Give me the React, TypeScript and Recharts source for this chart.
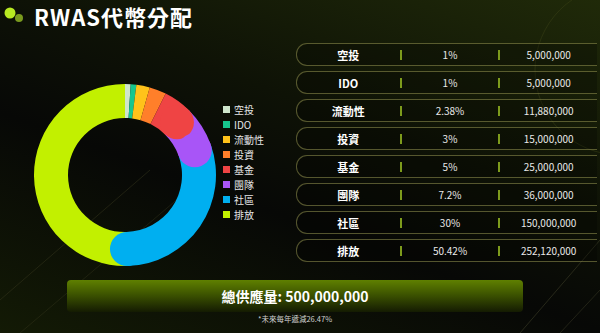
import React from 'react';
import { PieChart, Pie, Cell, Legend } from 'recharts';

const categories = ['空投', 'IDO', '流動性', '投資', '基金', '團隊', '社區', '排放'];
const percents = [1, 1, 2.38, 3, 5, 7.2, 30, 50.42];
const amounts = [5000000, 5000000, 11880000, 15000000, 25000000, 36000000, 150000000, 252120000];
const colors = ['#cfe6cc', '#17c68e', '#ffc21a', '#ff7f2a', '#ef4444', '#a855f7', '#00aff0', '#c2f000'];
const totalSupply = 500000000;
const title = 'RWAS代幣分配';
const totalLabel = '總供應量';
const footnote = '*未來每年遞減26.47%';

const data = categories.map((name, i) => ({ name, value: percents[i] }));

const FONT = '"Noto Sans CJK TC", "Noto Sans", sans-serif';
const fmt = (n: number) => n.toLocaleString('en-US');

const renderCap = (props: any) => {
  const { cx, cy, innerRadius, outerRadius, startAngle, endAngle, index } = props;
  if (index === categories.length - 1) return null;
  const t = outerRadius - innerRadius;
  const mid = (innerRadius + outerRadius) / 2;
  const arc = (Math.abs(endAngle - startAngle) * Math.PI * mid) / 180;
  if (arc < t / 2) return null;
  const rad = (endAngle * Math.PI) / 180;
  return (
    <circle
      cx={cx + mid * Math.cos(rad)}
      cy={cy - mid * Math.sin(rad)}
      r={t / 2}
      fill={colors[index]}
    />
  );
};

const LegendContent = (props: any) => {
  const payload = [...(props.payload || [])].sort(
    (a: any, b: any) => categories.indexOf(a.value) - categories.indexOf(b.value)
  );
  return (
    <div style={{ fontFamily: FONT }}>
      {payload.map((p: any, i: number) => (
        <div key={i} style={{ display: 'flex', alignItems: 'center', height: 15 }}>
          <span style={{ width: 7, height: 7, background: p.color, display: 'inline-block', marginRight: 4 }} />
          <span style={{ color: '#e6e6e6', fontSize: 10 }}>{p.value}</span>
        </div>
      ))}
    </div>
  );
};

export default function App() {
  return (
    <div
      style={{
        position: 'absolute',
        left: 0,
        top: 0,
        width: 600,
        height: 333,
        overflow: 'hidden',
        fontFamily: FONT,
        background:
          'linear-gradient(200deg, #202a09 0%, #0e1206 38%, #070806 60%, #131a05 100%)',
      }}
    >
      <svg width={600} height={333} style={{ position: 'absolute', left: 0, top: 0 }}>
        <line x1={0} y1={300} x2={150} y2={170} stroke="#3a3a20" strokeWidth={0.8} opacity={0.6} />
        <line x1={20} y1={333} x2={200} y2={180} stroke="#3a3a20" strokeWidth={0.8} opacity={0.5} />
        <line x1={520} y1={333} x2={600} y2={240} stroke="#4a4a30" strokeWidth={0.8} opacity={0.6} />
        <line x1={560} y1={333} x2={600} y2={290} stroke="#4a4a30" strokeWidth={0.8} opacity={0.5} />
        <circle cx={620} cy={70} r={85} fill="none" stroke="#3d4418" strokeWidth={0.8} opacity={0.6} />
      </svg>

      {/* title */}
      <svg width={30} height={30} style={{ position: 'absolute', left: 0, top: 4 }}>
        <circle cx={19} cy={14} r={4} fill="#7a9a1e" />
        <circle cx={10} cy={9} r={5.5} fill="#b8ea22" />
      </svg>
      <div
        style={{
          position: 'absolute',
          left: 34,
          top: 2,
          color: '#fff',
          fontWeight: 700,
          fontSize: 22,
          lineHeight: '29px',
          letterSpacing: 1,
        }}
      >
        {title}
      </div>

      {/* donut */}
      <div style={{ position: 'absolute', left: 0, top: 40 }}>
        <PieChart width={300} height={260}>
          <Pie
            data={data}
            dataKey="value"
            nameKey="name"
            cx={120}
            cy={130}
            innerRadius={57}
            outerRadius={91}
            startAngle={90}
            endAngle={-270}
            stroke="none"
            isAnimationActive={false}
            label={renderCap}
            labelLine={false}
          >
            {data.map((d, i) => (
              <Cell key={d.name} fill={colors[i]} />
            ))}
          </Pie>
          <Legend
            layout="vertical"
            content={<LegendContent />}
            wrapperStyle={{ position: 'absolute', left: 223, top: 62, width: 70 }}
          />
        </PieChart>
      </div>

      {/* table */}
      {categories.map((c, i) => (
        <div
          key={c}
          style={{
            position: 'absolute',
            left: 296,
            top: 43 + i * 28,
            width: 300,
            height: 21,
            border: '1px solid rgba(150,150,80,0.55)',
            borderRight: 'none',
            borderRadius: '11px 0 0 11px',
            display: 'flex',
            alignItems: 'center',
            background: 'rgba(0,0,0,0.25)',
          }}
        >
          <div style={{ width: 103, textAlign: 'center', color: '#fff', fontWeight: 700, fontSize: 11 }}>{c}</div>
          <div style={{ width: 2, height: 10, background: '#7d9b1c' }} />
          <div style={{ width: 97, textAlign: 'center', color: '#e8e8e8', fontSize: 10 }}>{percents[i]}%</div>
          <div style={{ width: 2, height: 10, background: '#7d9b1c' }} />
          <div style={{ width: 97, textAlign: 'center', color: '#e8e8e8', fontSize: 10 }}>{fmt(amounts[i])}</div>
        </div>
      ))}

      {/* total bar */}
      <div
        style={{
          position: 'absolute',
          left: 67,
          top: 280,
          width: 456,
          height: 32,
          borderRadius: 4,
          background: 'linear-gradient(180deg, #5f8000 0%, #3d5400 45%, #141b02 100%)',
          display: 'flex',
          alignItems: 'center',
          justifyContent: 'center',
          color: '#fff',
          fontWeight: 700,
          fontSize: 14,
        }}
      >
        {totalLabel}: {fmt(totalSupply)}
      </div>
      <div
        style={{
          position: 'absolute',
          left: 67,
          top: 313,
          width: 456,
          textAlign: 'center',
          color: '#cfcfcf',
          fontSize: 7.5,
          lineHeight: '12px',
        }}
      >
        {footnote}
      </div>
    </div>
  );
}
